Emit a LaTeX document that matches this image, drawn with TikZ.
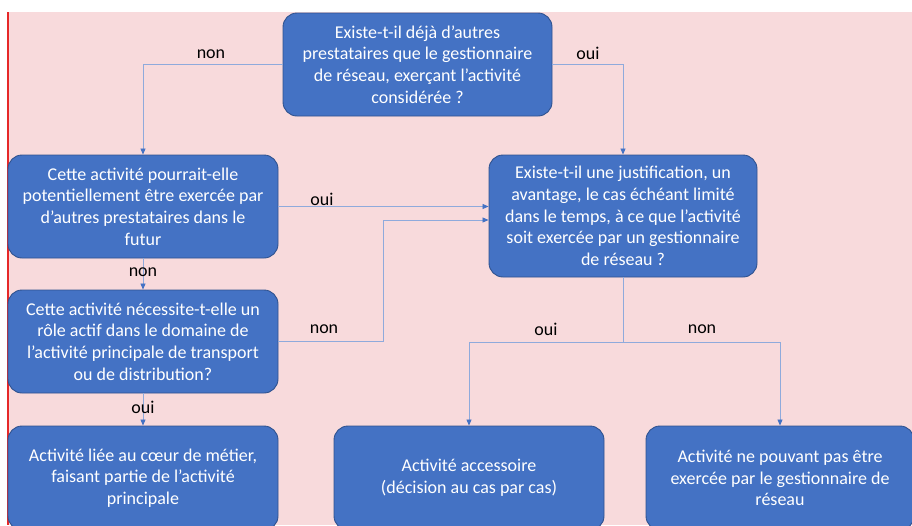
\documentclass[tikz,border=0pt]{standalone}
\usepackage{fontspec}
\setmainfont{Carlito}
\usetikzlibrary{arrows.meta, positioning}
\definecolor{boxblue}{RGB}{68,114,196}
\definecolor{boxedge}{RGB}{47,82,143}
\definecolor{linkblue}{RGB}{143,170,220}
\definecolor{bgpink}{RGB}{248,218,220}
\definecolor{edgered}{RGB}{230,40,40}

\tikzset{
  question/.style={draw=boxedge, line width=0.9pt, fill=boxblue, rounded corners=14pt,
    minimum width=270pt, minimum height=104pt, inner sep=0pt, align=center,
    text=white, font=\fontsize{18}{21.7}\selectfont},
  link/.style={draw=linkblue, line width=0.8pt, -{Triangle[length=6pt, width=5pt, color=boxblue]}},
  answer/.style={text=black, font=\fontsize{18}{20}\selectfont}
}

\begin{document}
\begin{tikzpicture}[x=1pt, y=-1pt]
    \clip (0,0) rectangle (912,525);
    \fill[white] (0,0) rectangle (912,525);
    \fill[bgpink] (8,12) rectangle (912,525);
    \draw[edgered, line width=1.5pt] (8,12) -- (8,525);

    % questions
    \node[question, minimum width=269pt, minimum height=103pt] (existe) at (417.5,64.5)
        {Existe-t-il déjà d’autres\\prestataires que le gestionnaire\\de réseau, exerçant l’activité\\considérée ?};
    \node[question, minimum height=103pt] (futur) at (143,206.5)
        {Cette activité pourrait-elle\\potentiellement être exercée par\\d’autres prestataires dans le\\futur};
    \node[question, minimum width=268pt, minimum height=122pt] (justif) at (623,216)
        {Existe-t-il une justification, un\\avantage, le cas échéant limité\\dans le temps, à ce que l’activité\\soit exercée par un gestionnaire\\de réseau ?};
    \node[question, minimum height=103pt] (role) at (143,341.5)
        {Cette activité nécessite-t-elle un\\rôle actif dans le domaine de\\l’activité principale de transport\\ou de distribution?};

    % conclusions
    \node[question] (coeur) at (143,478)
        {Activité liée au cœur de métier,\\faisant partie de l’activité\\principale};
    \node[question] (accessoire) at (469,478)
        {Activité accessoire\\(décision au cas par cas)};
    \node[question, minimum width=268pt] (exclue) at (780,478)
        {Activité ne pouvant pas être\\exercée par le gestionnaire de\\réseau};

    % connectors
    \coordinate (coude) at (383,220);
    \coordinate (fourche) at (623,342);
    \draw[link] (existe.west) -| (futur.north);
    \draw[link] (existe.east) -| (justif.north);
    \draw[link] (futur.east) -- (futur.east -| justif.west);
    \draw[link] (role.east) -| (coude) -- (coude -| justif.west);
    \draw[link] (futur.south) -- (role.north);
    \draw[link] (role.south) -- (coeur.north);
    \draw[draw=linkblue, line width=0.8pt] (justif.south) -- (fourche);
    \draw[link] (fourche) -| (accessoire.north);
    \draw[link] (fourche) -| (exclue.north);

    % answers
    \node[answer] (nonexiste) at (211,54) {non};
    \node[answer] (ouiexiste) at (588,53) {oui};
    \node[answer] (ouifutur) at (322,199) {oui};
    \node[answer] (nonfutur) at (143,272) {non};
    \node[answer] (nonrole) at (324,329) {non};
    \node[answer] (ouirole) at (143,407) {oui};
    \node[answer] (ouijustif) at (546,329) {oui};
    \node[answer] (nonjustif) at (702,329) {non};
\end{tikzpicture}
\end{document}
